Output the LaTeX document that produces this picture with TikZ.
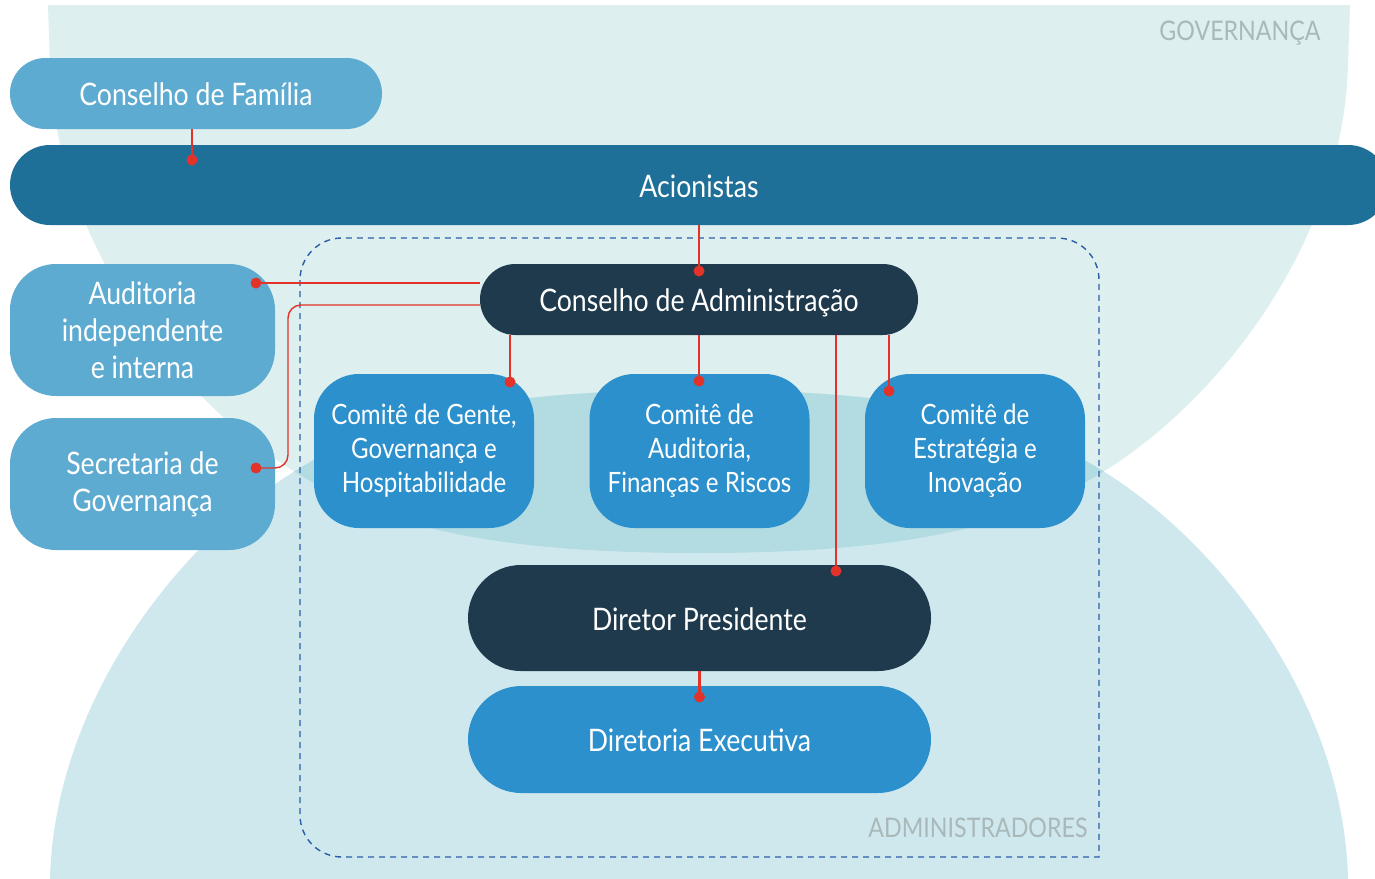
\documentclass[tikz,border=0pt]{standalone}
\usepackage{fontspec}
\setmainfont{Lato}[FakeStretch=0.86]
\definecolor{topbg}{HTML}{DDEFEF}
\definecolor{botbg}{HTML}{CFE8EE}
\definecolor{lensc}{HTML}{B3DBE2}
\definecolor{lightblue}{HTML}{5EABD2}
\definecolor{acioc}{HTML}{1F7099}
\definecolor{darkn}{HTML}{1E3A4C}
\definecolor{midblue}{HTML}{2B90CC}
\definecolor{redc}{HTML}{E2322A}
\definecolor{dashc}{HTML}{2B5EA8}
\definecolor{graytxt}{HTML}{A9B8B8}
\begin{document}
\begin{tikzpicture}[x=1pt,y=-1pt,
  box/.style={rectangle,inner sep=0pt,text=white,align=center,font=\fontsize{31}{37}\selectfont},
  one/.style={text height=28pt,text depth=4pt},
  comite/.style={box,fill=midblue,minimum width=220pt,minimum height=154pt,rounded corners=45pt,font=\fontsize{28}{34}\selectfont},
  side/.style={box,fill=lightblue,minimum width=265pt,minimum height=132pt,rounded corners=46pt},
  link/.style={draw=redc,line width=2.4pt},
  thinlink/.style={draw=redc,line width=1.4pt,rounded corners=13pt},
  dot/.style={fill=redc},
  zone/.style={text=graytxt,font=\fontsize{27}{30}\selectfont,inner sep=0pt},
  frame/.style={draw=dashc,line width=1.4pt,dash pattern=on 6pt off 5pt}
]
\useasboundingbox (0,0) rectangle (1375,878);
% background shapes
\begin{scope}
\clip (0,0) rectangle (1375,878);
\path[save path=\toppath] (48,5) -- (1350,5) -- (1348,65) .. controls (1343,243) and (1218,403) .. (1098,475) .. controls (1018,523) and (918,553) .. (699,553) .. controls (480,553) and (380,523) .. (300,475) .. controls (180,403) and (55,243) .. (50,65) -- cycle;
\path[save path=\botpath] (46,930) -- (50,878) .. controls (55,700) and (180,540) .. (300,468) .. controls (380,420) and (480,390) .. (699,390) .. controls (918,390) and (1018,420) .. (1098,468) .. controls (1218,540) and (1343,700) .. (1348,878) -- (1352,930) -- cycle;
\fill[topbg,use path=\toppath];
\fill[botbg,use path=\botpath];
\begin{scope}
\clip[use path=\toppath];
\fill[lensc,use path=\botpath];
\end{scope}
\end{scope}
% zone labels
\node[zone] (gov) at (1240,33) {GOVERNANÇA};
\node[zone] (adm) at (978,828) {ADMINISTRADORES};
% dashed frame
\draw[frame] (300,280) -- (300,815) arc[start angle=180,end angle=90,radius=42] -- (1099,857) -- (1099,280) arc[start angle=0,end angle=-90,radius=42] -- (342,238) arc[start angle=270,end angle=180,radius=42] -- cycle;
% nodes
\begin{scope}
\clip (0,0) rectangle (1375,878);
\node[box,one,fill=acioc,minimum width=1378pt,minimum height=80pt,rounded corners=39.9pt] (acio) at (699,185) {Acionistas};
\end{scope}
\node[box,one,fill=lightblue,minimum width=372pt,minimum height=71pt,rounded corners=35.4pt] (fam) at (196,93.5) {Conselho de Família};
\node[box,one,fill=darkn,minimum width=438pt,minimum height=71pt,rounded corners=35.4pt] (ca) at (699,299.5) {Conselho de Administração};
\node[side] (aud) at (142.5,330) {\raisebox{-2pt}{\parbox{250pt}{\centering Auditoria\\independente\\e interna}}};
\node[side] (sec) at (142.5,484) {Secretaria de\\Governança};
\node[comite] (c1) at (424,451) {Comitê de Gente,\\Governança e\\Hospitabilidade};
\node[comite] (c2) at (699.5,451) {Comitê de\\Auditoria,\\Finanças e Riscos};
\node[comite] (c3) at (975,451) {Comitê de\\Estratégia e\\Inovação};
\node[box,one,fill=darkn,minimum width=463pt,minimum height=106pt,rounded corners=52.9pt] (dp) at (699.5,618) {Diretor Presidente};
\node[box,one,fill=midblue,minimum width=463pt,minimum height=107pt,rounded corners=53.4pt] (de) at (699.5,739.5) {Diretoria Executiva};
% connector end points
\coordinate (p1) at (192,160);
\coordinate (p2) at (699,271);
\coordinate (p3) at (256,283);
\coordinate (p4) at (256,468);
\coordinate (p5) at (510,382);
\coordinate (p6) at (699,381);
\coordinate (p7) at (889,391);
\coordinate (p8) at (836,571);
\coordinate (p9) at (699.5,697);
% connectors
\draw[link] (fam.south -| p1) -- (p1);
\draw[link] (acio.south -| p2) -- (p2);
\draw[link] (ca.west |- p3) -- (p3);
\draw[thinlink] (480,305) -- (288,305) -- (288,468) -- (p4);
\draw[link] (ca.south -| p5) -- (p5);
\draw[link] (ca.south -| p6) -- (p6);
\draw[link] (ca.south -| p7) -- (p7);
\draw[link] (ca.south -| p8) -- (p8);
\draw[link] (dp.south -| p9) -- (p9);
\foreach \p in {p1,p2,p3,p4,p5,p6,p7,p8,p9} \fill[dot] (\p) circle[radius=5.5];
\end{tikzpicture}
\end{document}
